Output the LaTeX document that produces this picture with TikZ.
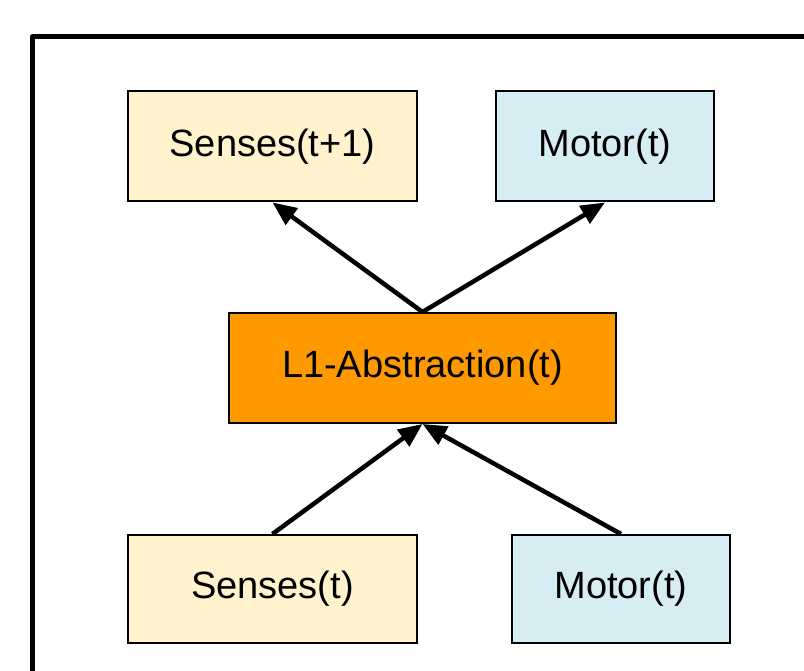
\documentclass[tikz,border=0pt]{standalone}
\usepackage{fontspec}
\setmainfont{Liberation Sans}
\usetikzlibrary{arrows.meta}

\definecolor{sensefill}{HTML}{FFF2CC}
\definecolor{motorfill}{HTML}{D6EDF4}
\definecolor{abstrfill}{HTML}{FF9900}

\tikzset{
  unit/.style={draw=black,line width=2pt,minimum height=110pt,
    inner sep=0pt,font=\fontsize{38}{44}\selectfont},
  sensebox/.style={unit,fill=sensefill,minimum width=289pt},
  motorbox/.style={unit,fill=motorfill,minimum width=218pt},
  abstrbox/.style={unit,fill=abstrfill,minimum width=387pt},
  link/.style={-{Triangle[length=24pt,width=20pt]},line width=4.5pt}
}

\begin{document}
\begin{tikzpicture}[x=1pt,y=-1pt]
\useasboundingbox (0,0) rectangle (804,671);
% outer frame (runs off the page right and bottom)
\draw[line width=5pt,line join=round] (32,671) -- (32,37) -- (804,37);
% layer t+1 outputs
\node[sensebox] (sensnext) at (272.5,146.5) {Senses(t+1)};
\node[motorbox] (motnext) at (605,146.5) {Motor(t)};
% abstraction layer
\node[abstrbox] (abstr) at (422.5,368) {L1-Abstraction(t)};
% layer t inputs
\node[sensebox,minimum height=108pt] (sens) at (272.5,589) {Senses(t)};
\node[motorbox,minimum height=108pt] (mot) at (621,589) {Motor(t)};
% connections
\draw[link] (abstr.north) -- (sensnext.south);
\draw[link] (abstr.north) -- (motnext.south);
\draw[link] (sens.north) -- (abstr.south);
\draw[link] (mot.north) -- (abstr.south);
\end{tikzpicture}
\end{document}
